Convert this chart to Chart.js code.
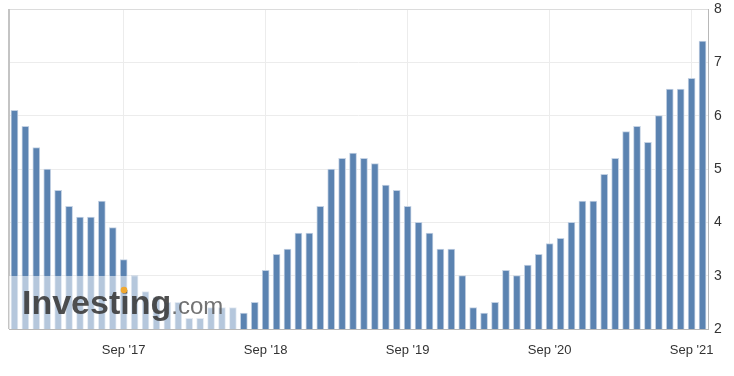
<!DOCTYPE html>
<html>
<head>
<meta charset="utf-8">
<script src="https://cdn.jsdelivr.net/npm/chart.js@4"></script>
<style>
    html, body { margin: 0; padding: 0; background: #fff; }
    #wrap { width: 734px; height: 376px; }
</style>
</head>
<body>
<div id="wrap"><canvas id="chart"></canvas></div>
<script>
// one bar per release, 13 releases a year
const values = [
    6.1, 5.8, 5.4, 5.0, 4.6, 4.3, 4.1, 4.1, 4.4, 3.9, 3.3, 3.0, 2.7,
    2.6, 2.5, 2.5, 2.2, 2.2, 2.4, 2.4, 2.4, 2.3, 2.5, 3.1, 3.4, 3.5,
    3.8, 3.8, 4.3, 5.0, 5.2, 5.3, 5.2, 5.1, 4.7, 4.6, 4.3, 4.0, 3.8,
    3.5, 3.5, 3.0, 2.4, 2.3, 2.5, 3.1, 3.0, 3.2, 3.4, 3.6, 3.7, 4.0,
    4.4, 4.4, 4.9, 5.2, 5.7, 5.8, 5.5, 6.0, 6.5, 6.5, 6.7, 7.4
];
const tickLabels = ["Sep '17", "Sep '18", "Sep '19", "Sep '20", "Sep '21"];
const tickIndex = [10, 23, 36, 49, 62];
const yTicks = [2, 3, 4, 5, 6, 7, 8];

const categories = values.map((v, i) => {
    const k = tickIndex.indexOf(i);
    return k >= 0 ? tickLabels[k] : '';
});

// frame + investing.com watermark
const frame = {
    id: 'frame',
    beforeDatasetsDraw(chart) {
        const { ctx, chartArea: a } = chart;
        ctx.save();
        ctx.strokeStyle = '#dcdcdc';
        ctx.lineWidth = 1;
        ctx.beginPath();
        ctx.moveTo(a.left, a.top + 0.5);
        ctx.lineTo(a.right, a.top + 0.5);
        ctx.stroke();
        ctx.strokeStyle = '#c4c4c4';
        ctx.lineWidth = 2;
        ctx.beginPath();
        ctx.moveTo(a.left, a.top);
        ctx.lineTo(a.left, a.bottom);
        ctx.stroke();
        ctx.restore();
    },
    afterDatasetsDraw(chart) {
        const { ctx, chartArea: a } = chart;
        ctx.save();
        ctx.fillStyle = 'rgba(255,255,255,0.55)';
        ctx.fillRect(a.left, 276, 229, a.bottom - 276);
        ctx.font = 'bold 34px Arial, "Liberation Sans", sans-serif';
        ctx.fillStyle = 'rgba(60,60,60,0.9)';
        const x0 = 22, base = 314;
        ctx.fillText('Investing', x0, base);
        const w = ctx.measureText('Investing').width;
        const wPre = ctx.measureText('Invest').width;
        const wI = ctx.measureText('i').width;
        ctx.fillStyle = '#f0a830';
        ctx.beginPath();
        ctx.arc(x0 + wPre + wI / 2 - 1, 290, 3.3, 0, Math.PI * 2);
        ctx.fill();
        ctx.font = '24px Arial, "Liberation Sans", sans-serif';
        ctx.fillStyle = 'rgba(90,90,90,0.85)';
        ctx.fillText('.com', x0 + w, base);
        ctx.restore();
    }
};

new Chart(document.getElementById('chart'), {
    type: 'bar',
    data: {
        labels: categories,
        datasets: [{
            data: values,
            backgroundColor: '#5b83b1',
            borderColor: '#c3d1e3',
            borderWidth: 1,
            barThickness: 7
        }]
    },
    options: {
        responsive: true,
        maintainAspectRatio: false,
        animation: false,
        layout: { padding: { left: 9, top: 9, right: 0, bottom: 0 } },
        plugins: {
            legend: { display: false },
            tooltip: { enabled: false }
        },
        scales: {
            x: {
                offset: true,
                grid: {
                    offset: false,
                    drawTicks: false,
                    color: c => (categories[c.index] ? '#ececec' : 'rgba(0,0,0,0)')
                },
                border: { display: true, color: '#b8b8b8' },
                ticks: {
                    autoSkip: false,
                    maxRotation: 0,
                    padding: 14,
                    color: '#333',
                    font: { family: 'Arial, "Liberation Sans", sans-serif', size: 13 }
                },
                afterFit: s => { s.height = 47; s.paddingLeft = 0; s.paddingRight = 0; }
            },
            y: {
                position: 'right',
                min: yTicks[0],
                max: yTicks[yTicks.length - 1],
                afterBuildTicks: s => { s.ticks = yTicks.map(v => ({ value: v })); },
                grid: { color: '#ececec', drawTicks: false },
                border: { display: true, color: '#b8b8b8' },
                ticks: {
                    padding: 6,
                    color: '#333',
                    font: { family: 'Arial, "Liberation Sans", sans-serif', size: 14 }
                },
                afterFit: s => { s.width = 26; s.paddingTop = 0; s.paddingBottom = 0; }
            }
        }
    },
    plugins: [frame]
});
</script>
</body>
</html>
